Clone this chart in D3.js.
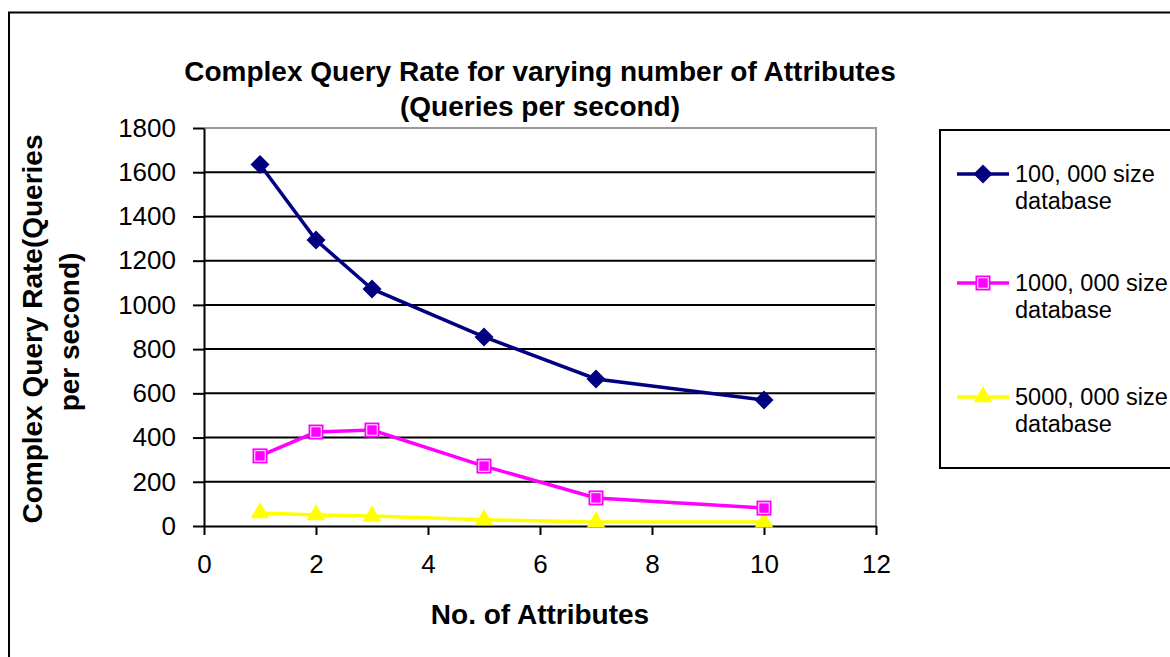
<!DOCTYPE html>
<html>
<head>
<meta charset="utf-8">
<script src="https://cdn.jsdelivr.net/npm/d3@7"></script>
<style>
  body { margin: 0; background: #fff; }
  text { font-family: "Liberation Sans", Arial, sans-serif; fill: #000; }
</style>
</head>
<body>
<script>
// data
var attributes = [1, 2, 3, 5, 7, 10];
var db100k = [1635, 1293, 1072, 855, 665, 570];
var db1m = [317, 425, 434, 271, 127, 81];
var db5m = [59, 50, 45, 28, 18, 18];
var seriesNames = ["100, 000 size database", "1000, 000 size database", "5000, 000 size database"];
var xTicks = [0, 2, 4, 6, 8, 10, 12];
var yTicks = [0, 200, 400, 600, 800, 1000, 1200, 1400, 1600, 1800];

var svgWidth = 1170, svgHeight = 657;
var margin = { top: 128, left: 204 };
var width = 672, height = 398;

var svg = d3.select("body").append("svg")
    .attr("width", svgWidth)
    .attr("height", svgHeight);

// outer chart border
svg.append("rect")
    .attr("x", 9).attr("y", 12.5)
    .attr("width", 1200).attr("height", 700)
    .attr("fill", "none").attr("stroke", "#000").attr("stroke-width", 2);

// title
var title = svg.append("text")
    .attr("text-anchor", "middle")
    .style("font-weight", "bold")
    .style("font-size", "28px");
title.append("tspan").attr("x", 540).attr("y", 81).text("Complex Query Rate for varying number of Attributes");
title.append("tspan").attr("x", 540).attr("y", 116).text("(Queries per second)");

var chartGroup = svg.append("g")
    .attr("transform", `translate(${margin.left}, ${margin.top})`);

var xScale = d3.scaleLinear().domain([0, 12]).range([0, width]);
var yScale = d3.scaleLinear().domain([0, 1800]).range([height, 0]);

// gridlines
chartGroup.selectAll(".grid")
    .data(yTicks.filter(d => d > 0 && d < 1800))
    .enter().append("line")
    .attr("x1", 0).attr("x2", width)
    .attr("y1", d => yScale(d)).attr("y2", d => yScale(d))
    .attr("stroke", "#000").attr("stroke-width", 2);

// plot border top/right in grey
chartGroup.append("path")
    .attr("d", `M0,${yScale(1800)}H${width}V${height}`)
    .attr("fill", "none").attr("stroke", "#999").attr("stroke-width", 2);

// axes
var bottomAxis = d3.axisBottom(xScale).tickValues(xTicks).tickFormat(d3.format("d"))
    .tickSize(9).tickPadding(20).tickSizeOuter(0);
var leftAxis = d3.axisLeft(yScale).tickValues(yTicks).tickFormat(d3.format("d"))
    .tickSize(11).tickPadding(17).tickSizeOuter(0);

var gx = chartGroup.append("g")
    .attr("transform", `translate(0, ${height})`)
    .call(bottomAxis);
var gy = chartGroup.append("g").call(leftAxis);

[gx, gy].forEach(function (g) {
  g.select(".domain").attr("stroke", "#000").attr("stroke-width", 2);
  g.selectAll(".tick line").attr("stroke", "#000").attr("stroke-width", 2);
  g.selectAll(".tick text")
    .style("font-size", "26px")
    .style("font-family", "'Liberation Sans', Arial, sans-serif")
    .attr("fill", "#000");
});

// axis titles
svg.append("text")
    .attr("x", 540).attr("y", 624)
    .attr("text-anchor", "middle")
    .style("font-weight", "bold").style("font-size", "28px")
    .text("No. of Attributes");

var ytitle = svg.append("g");
ytitle.append("text")
    .attr("transform", "translate(42, 329) rotate(-90)")
    .attr("text-anchor", "middle")
    .style("font-weight", "bold").style("font-size", "28px")
    .text("Complex Query Rate(Queries");
ytitle.append("text")
    .attr("transform", "translate(79, 332) rotate(-90)")
    .attr("text-anchor", "middle")
    .style("font-weight", "bold").style("font-size", "28px")
    .text("per second)");

// series
var series = [
  { name: seriesNames[0], values: db100k, color: "#000080", marker: "diamond" },
  { name: seriesNames[1], values: db1m, color: "#FF00FF", marker: "square" },
  { name: seriesNames[2], values: db5m, color: "#FFFF00", marker: "triangle" }
];

var line = d3.line()
    .x((d, i) => xScale(attributes[i]))
    .y(d => yScale(d));

function drawMarker(g, type, color) {
  if (type === "diamond") {
    g.append("path")
      .attr("d", d3.symbol().type(d3.symbolSquare).size(180)())
      .attr("transform", "rotate(45)")
      .attr("fill", color);
  } else if (type === "square") {
    g.append("path")
      .attr("d", d3.symbol().type(d3.symbolSquare).size(225)())
      .attr("fill", color);
    g.append("path")
      .attr("d", d3.symbol().type(d3.symbolSquare).size(110)())
      .attr("fill", "none").attr("stroke", "#fff").attr("stroke-width", 1);
  } else {
    g.append("path")
      .attr("d", d3.symbol().type(d3.symbolTriangle).size(150)())
      .attr("fill", color);
  }
}

series.slice().reverse().forEach(function (s) {
  chartGroup.append("path")
    .datum(s.values)
    .attr("d", line)
    .attr("fill", "none")
    .attr("stroke", s.color)
    .attr("stroke-width", 3.5);
  s.values.forEach(function (v, i) {
    var g = chartGroup.append("g")
      .attr("transform", `translate(${xScale(attributes[i])}, ${yScale(v)})`);
    drawMarker(g, s.marker, s.color);
  });
});

// legend
svg.append("rect")
    .attr("x", 940).attr("y", 130)
    .attr("width", 300).attr("height", 338)
    .attr("fill", "#fff").attr("stroke", "#000").attr("stroke-width", 2);

var legendY = [174, 283, 397];
series.forEach(function (s, i) {
  var lg = svg.append("g").attr("transform", `translate(957, ${legendY[i]})`);
  lg.append("line")
    .attr("x1", 0).attr("x2", 52)
    .attr("stroke", s.color).attr("stroke-width", 3.5);
  var mg = lg.append("g").attr("transform", "translate(26, 0)");
  drawMarker(mg, s.marker, s.color);
  var words = s.name.split(" size ");
  var t = lg.append("text").style("font-size", "23.5px");
  t.append("tspan").attr("x", 58).attr("y", 8).text(words[0] + " size");
  t.append("tspan").attr("x", 58).attr("y", 35).text("database");
});
</script>
</body>
</html>
